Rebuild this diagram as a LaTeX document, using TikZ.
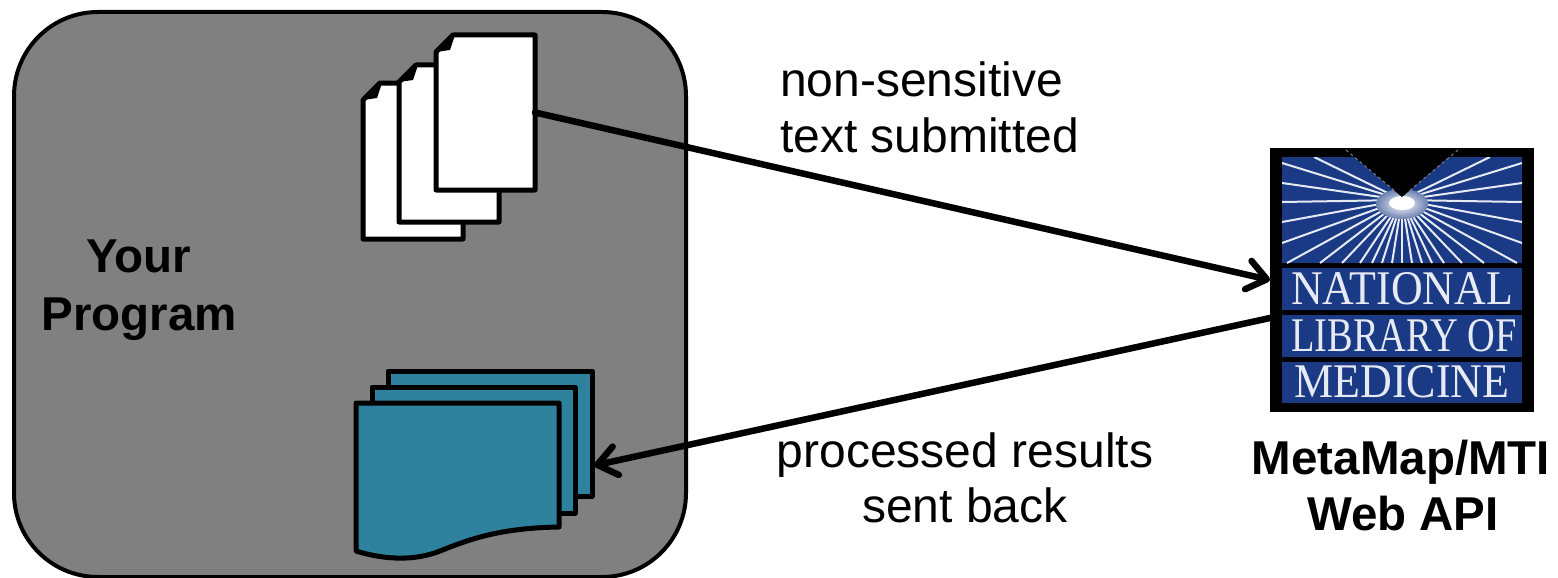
\documentclass[tikz,border=0pt]{standalone}
\usepackage{fontspec}
\usepackage{graphicx}
\setmainfont{Liberation Sans}
\newfontfamily\logofont{Liberation Serif}
\usetikzlibrary{arrows.meta,calc}
\definecolor{progfill}{HTML}{808080}
\definecolor{teal}{HTML}{2F829E}
\definecolor{nlmblue}{HTML}{1B3A86}
\definecolor{nlmtext}{HTML}{E6EAF3}
\tikzset{
  program/.style={draw=black,line width=4pt,fill=progfill,rounded corners=84pt},
  page/.style={draw=black,line width=5pt,fill=white,line join=round},
  flowpage/.style={draw=black,line width=5pt,fill=teal,line join=round},
  anchorbox/.style={inner sep=0pt,outer sep=0pt,rectangle},
  link/.style={line width=6.5pt,draw=black,line cap=round,-{Straight Barb[length=19pt,width=29pt,line width=6.5pt,round]}},
  label/.style={font=\fontsize{48}{55}\selectfont,text=black,inner sep=0pt,anchor=base},
  boldlabel/.style={label,font=\fontsize{47.5}{55}\selectfont\bfseries},
  band/.style={fill=nlmblue,draw=none},
  ray/.style={draw=nlmtext,line width=2pt},
  logotext/.style={inner sep=0pt,text=nlmtext,font=\logofont}
}
\newcommand{\pagedoc}[4]{%
  \path[page] (#1,#2+17) -- (#1+17,#2) -- (#3,#2) -- (#3,#4) -- (#1,#4) -- cycle;
  \fill[black] (#1,#2+17) -- (#1+17,#2) -- (#1+18,#2+3) -- (#1+14,#2+15) -- cycle;
}
\begin{document}
\begin{tikzpicture}[x=1pt,y=-1pt]
\useasboundingbox (0,0) rectangle (1558,578);
\fill[white] (0,0) rectangle (1558,578);
% program box
\path[program] (14,12) rectangle (686,577);
% text pages
\pagedoc{363}{83}{463}{239}
\pagedoc{399}{65}{499}{222}
\pagedoc{436}{35}{535}{190}
\node[anchorbox,minimum width=99pt,minimum height=155pt] (pages) at (485.5,112.5) {};
% result pages
\path[flowpage] (388,371) rectangle (592,496);
\path[flowpage] (372,387) rectangle (575,513);
\path[flowpage] (356,403) -- (559,403) -- (559,527)
  .. controls (500,528) and (470,539) .. (440,551)
  .. controls (415,561) and (385,560) .. (356,551) -- cycle;
\node[anchorbox,minimum width=204pt,minimum height=125pt] (results) at (490,433.5) {};
% logo
\node[anchorbox,fill=black,minimum width=264pt,minimum height=264pt] (logo) at (1402,280) {};
\begin{scope}
  \clip (1282,157) rectangle (1522,263);
  \fill[nlmblue] (1282,157) rectangle (1522,263);
  \foreach \dx/\dy in {88/-43,120/-37,120/-17,120/2,120/22,120/43,115/63,82/63,60/63,42/63,30/63,20/63,10/63,0/63}{
    \draw[ray] (1402,200) -- ++(\dx,\dy);
    \draw[ray] (1402,200) -- ++(-\dx,\dy);
  }
  \shade[inner color=white,outer color=white!35!nlmblue,draw=none] (1402,204) ellipse (26pt and 15pt);
  \fill[white] (1402,203) ellipse (13pt and 7pt);
\end{scope}
\fill[black] (1343,148) -- (1402,197) -- (1459,148) -- cycle;
\draw[gray,line width=1pt,dashed] (1346,150) -- (1396,192);
\draw[gray,line width=1pt,dashed] (1458,150) -- (1408,192);
\fill[band] (1282,268) rectangle (1522,310);
\fill[band] (1282,315) rectangle (1522,357);
\fill[band] (1282,362) rectangle (1522,403);
\node[logotext] (nat) at (1402,289) {\resizebox{222pt}{32pt}{NATIONAL}};
\node[logotext] (lib) at (1404,336) {\resizebox{225pt}{32pt}{LIBRARY OF}};
\node[logotext] (med) at (1402,382) {\resizebox{215pt}{32pt}{MEDICINE}};
% connectors
\draw[link] (pages.east) -- (logo.west);
\draw[link] ([yshift=-38pt]logo.west) -- ([yshift=-32pt,xshift=2pt]results.east);
% labels
\node[label,anchor=base west] (t1) at (780,96) {non-sensitive};
\node[label,anchor=base west] (t2) at (780,152) {text submitted};
\node[label] (t3) at (965,467) {processed results};
\node[label] (t4) at (965,522) {sent back};
\node[boldlabel] (t5) at (139,272) {Your};
\node[boldlabel] (t6) at (139,330) {Program};
\node[boldlabel] (t7) at (1401,474) {MetaMap/MTI};
\node[boldlabel] (t8) at (1403,530) {Web API};
\end{tikzpicture}
\end{document}
